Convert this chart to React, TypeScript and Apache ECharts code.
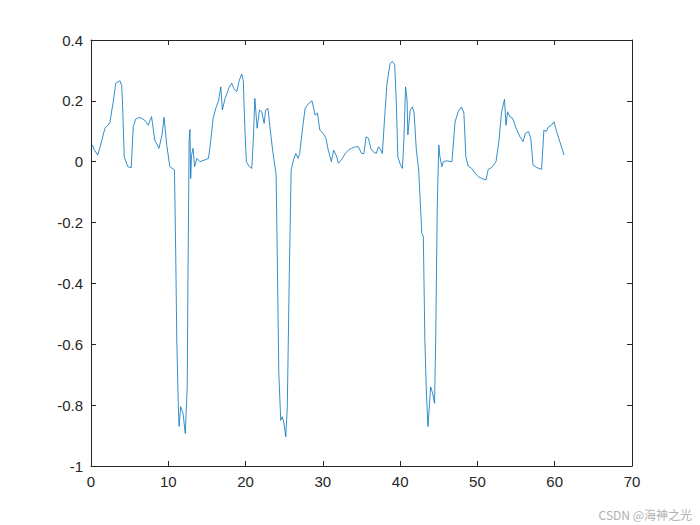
import React, { useEffect, useRef } from "react";
import * as echarts from "echarts";

const xValues: number[] = [
  0, 0.2, 0.4, 0.87, 1.3, 1.8, 2.2, 2.46, 2.7, 2.9, 3.2, 3.5, 3.75, 3.97, 4.1, 4.3, 4.75, 5.2, 5.47, 5.78,
  6.2, 6.55, 7.0, 7.4, 7.84, 8.25, 8.8, 9.2, 9.45, 9.8, 10.2, 10.8, 10.96, 11.1, 11.3, 11.4, 11.6, 11.9, 12.2, 12.45,
  12.55, 12.7, 12.8, 12.9, 13.0, 13.2, 13.4, 13.7, 14.1, 14.75, 15.2, 15.5, 15.8, 16.2, 16.5, 16.8, 17.0, 17.35, 17.6, 17.9,
  18.2, 18.5, 18.85, 19.2, 19.5, 19.7, 19.9, 20.1, 20.5, 20.8, 21.0, 21.2, 21.5, 21.8, 22.1, 22.4, 22.6, 22.9, 23.15, 23.5,
  23.8, 23.95, 24.1, 24.3, 24.55, 24.75, 24.97, 25.2, 25.4, 25.66, 25.9, 26.2, 26.5, 26.8, 27.0, 27.4, 27.7, 28.1, 28.6, 29.0,
  29.3, 29.6, 30.05, 30.4, 30.7, 31.1, 31.4, 31.8, 32.0, 32.4, 32.9, 33.3, 33.7, 34.2, 34.6, 35.0, 35.3, 35.6, 35.9, 36.2,
  36.5, 36.9, 37.2, 37.5, 37.7, 38.0, 38.3, 38.7, 39.0, 39.3, 39.5, 39.7, 40.05, 40.3, 40.5, 40.7, 40.9, 41.0, 41.3, 41.6,
  41.8, 42.1, 42.4, 42.8, 43.0, 43.2, 43.4, 43.6, 43.95, 44.2, 44.45, 44.6, 44.8, 45.0, 45.15, 45.4, 45.6, 46.0, 46.7, 46.9,
  47.1, 47.5, 47.95, 48.25, 48.5, 48.8, 49.25, 49.7, 50.1, 50.55, 51.1, 51.4, 51.85, 52.4, 52.8, 53.1, 53.5, 53.7, 53.9, 54.2,
  54.55, 55.0, 55.5, 55.9, 56.2, 56.6, 56.9, 57.2, 57.65, 58.3, 58.6, 58.9, 59.2, 59.6, 59.9, 60.25, 60.8, 61.2,
];

const yValues: number[] = [
  0.05, 0.055, 0.04, 0.022, 0.06, 0.11, 0.12, 0.13, 0.17, 0.2, 0.258, 0.262, 0.266, 0.25, 0.18, 0.016, -0.016, -0.02, 0.115, 0.14,
  0.145, 0.143, 0.135, 0.12, 0.148, 0.071, 0.044, 0.09, 0.146, 0.055, -0.016, -0.027, -0.3, -0.586, -0.805, -0.87, -0.805, -0.826, -0.893, -0.74,
  -0.37, 0.07, 0.106, -0.055, 0.02, 0.044, -0.016, 0.011, 0.0, 0.006, 0.011, 0.07, 0.143, 0.18, 0.2, 0.246, 0.17, 0.208, 0.225, 0.246,
  0.258, 0.24, 0.23, 0.268, 0.288, 0.268, 0.115, 0.0, -0.016, -0.022, 0.071, 0.208, 0.11, 0.17, 0.164, 0.126, 0.17, 0.175, 0.115, 0.038,
  -0.016, -0.04, -0.31, -0.695, -0.85, -0.838, -0.86, -0.904, -0.805, -0.367, -0.027, 0.006, 0.027, 0.011, 0.027, 0.115, 0.175, 0.19, 0.2, 0.153,
  0.16, 0.104, 0.093, 0.077, 0.038, 0.0, 0.038, 0.016, -0.005, 0.006, 0.027, 0.038, 0.044, 0.049, 0.049, 0.027, 0.027, 0.082, 0.077, 0.044,
  0.033, 0.027, 0.049, 0.038, 0.027, 0.148, 0.258, 0.323, 0.329, 0.318, 0.2, 0.016, -0.011, -0.022, 0.082, 0.246, 0.2, 0.088, 0.17, 0.18,
  0.16, 0.038, -0.027, -0.235, -0.246, -0.586, -0.76, -0.87, -0.74, -0.76, -0.794, -0.586, -0.148, 0.055, 0.016, -0.016, 0.0, 0.003, 0.0, 0.065,
  0.13, 0.164, 0.18, 0.16, 0.016, -0.014, -0.022, -0.038, -0.049, -0.055, -0.06, -0.025, -0.019, 0.0, 0.071, 0.16, 0.205, 0.12, 0.164, 0.148,
  0.143, 0.11, 0.082, 0.066, 0.093, 0.099, 0.077, -0.011, -0.019, -0.025, 0.104, 0.099, 0.115, 0.12, 0.131, 0.099, 0.055, 0.022,
];

const watermark = "CSDN @海神之光";

export default function App() {
  const ref = useRef<HTMLDivElement>(null);
  useEffect(() => {
    if (!ref.current) return;
    const chart = echarts.init(ref.current, undefined, { renderer: "svg" });
    const data = xValues.map((x, i) => [x, yValues[i]]);
    const axisColor = "#262626";
    const font = "Liberation Sans, Arial, sans-serif";
    const xCommon = {
      type: "value" as const,
      min: 0,
      max: 70,
      interval: 10,
      splitLine: { show: false },
      axisLine: { show: true, onZero: false, lineStyle: { color: axisColor, width: 1 } },
      axisTick: { show: true, inside: true, length: 5, lineStyle: { color: axisColor } },
    };
    const yCommon = {
      type: "value" as const,
      min: -1,
      max: 0.4,
      interval: 0.2,
      splitLine: { show: false },
      axisLine: { show: true, onZero: false, lineStyle: { color: axisColor, width: 1 } },
      axisTick: { show: true, inside: true, length: 5, lineStyle: { color: axisColor } },
    };
    chart.setOption({
      animation: false,
      backgroundColor: "#ffffff",
      grid: { left: 91, right: 68, top: 40, bottom: 59, containLabel: false },
      xAxis: [
        {
          ...xCommon,
          position: "bottom",
          axisLabel: { show: true, color: axisColor, fontSize: 15, fontFamily: font, margin: 8 },
        },
        { ...xCommon, position: "top", axisLabel: { show: false } },
      ],
      yAxis: [
        {
          ...yCommon,
          position: "left",
          axisLabel: {
            show: true,
            color: axisColor,
            fontSize: 15,
            fontFamily: font,
            margin: 8,
            formatter: (v: number) => String(Math.round(v * 10) / 10),
          },
        },
        { ...yCommon, position: "right", axisLabel: { show: false } },
      ],
      series: [
        {
          type: "line",
          xAxisIndex: 0,
          yAxisIndex: 0,
          data,
          showSymbol: false,
          symbol: "none",
          lineStyle: { color: "#0072BD", width: 0.8 },
        },
      ],
      graphic: [
        {
          type: "text",
          right: 8,
          bottom: 5,
          style: {
            text: watermark,
            fill: "#b0b0b0",
            fontSize: 12,
            fontFamily: "Noto Sans CJK SC, sans-serif",
          },
        },
      ],
    });
    return () => chart.dispose();
  }, []);
  return (
    <div
      ref={ref}
      style={{ position: "fixed", left: 0, top: 0, width: 700, height: 525, background: "#fff" }}
    />
  );
}
